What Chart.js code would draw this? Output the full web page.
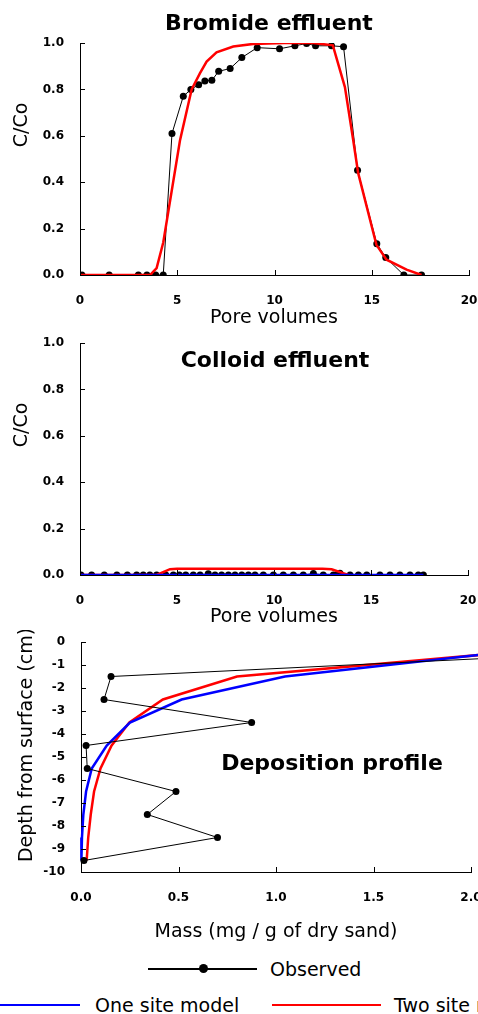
<!DOCTYPE html>
<html>
<head>
<meta charset="utf-8">
<title>Bromide and colloid effluent</title>
<script src="https://cdn.jsdelivr.net/npm/chart.js@4.4.0/dist/chart.umd.min.js"></script>
<style>
  body { margin: 0; width: 478px; height: 1014px; overflow: hidden; background: #fff; position: relative;
         font-family: "DejaVu Sans", sans-serif; color: #000; }
  .box { position: absolute; left: 0; width: 478px; }
  .lg-line { position: absolute; height: 2px; }
  .lg-dot { position: absolute; width: 9px; height: 9px; border-radius: 50%; background: #000; }
  .lg-text { position: absolute; font-size: 19px; line-height: 24px; white-space: nowrap; }
</style>
</head>
<body>
<div class="box" style="top:0;height:330px"><canvas id="bromChart"></canvas></div>
<div class="box" style="top:330px;height:300px"><canvas id="collChart"></canvas></div>
<div class="box" style="top:630px;height:315px"><canvas id="depChart"></canvas></div>

<!-- legend -->
<div class="lg-line" style="left:148px;width:109px;top:968px;background:#000"></div>
<div class="lg-dot" style="left:199px;top:964px"></div>
<div class="lg-text" style="left:270px;top:957px">Observed</div>
<div class="lg-line" style="left:0;width:80px;top:1004px;background:#0000ff"></div>
<div class="lg-text" style="left:95px;top:993px">One site model</div>
<div class="lg-line" style="left:272px;width:109px;top:1004px;background:#ff0000"></div>
<div class="lg-text" style="left:394px;top:993px">Two site model</div>

<script>
// --- Bromide effluent (pore volumes vs C/Co)
const bromPV  = [0.1, 1.5, 3.0, 3.44, 3.89, 4.28, 4.73, 5.31, 5.70, 6.10, 6.42, 6.78, 7.13, 7.72, 8.32,
                 9.11, 10.26, 11.05, 11.65, 12.11, 12.93, 13.55, 14.27, 15.26, 15.72, 16.65, 17.56];
const bromObs = [0, 0, 0, 0, 0, 0, 0.61, 0.77, 0.80, 0.82, 0.836, 0.839, 0.878, 0.89, 0.937,
                 0.98, 0.975, 0.988, 0.998, 0.988, 0.988, 0.984, 0.452, 0.135, 0.075, 0, 0];
const bromTwoPV = [0, 3.6, 3.94, 4.28, 5.14, 5.74, 6.17, 6.51, 7.02, 7.88, 8.9, 10.5, 12.0, 13.0,
                   13.62, 14.05, 14.3, 15.24, 15.76, 16.79, 17.56];
const bromTwo   = [0, 0, 0.03, 0.14, 0.58, 0.80, 0.87, 0.92, 0.96, 0.985, 0.996, 1.0, 1.0, 0.99,
                   0.81, 0.58, 0.44, 0.13, 0.066, 0.023, 0];

// --- Colloid effluent
const collPV  = [0.05, 0.6, 1.25, 1.9, 2.44, 2.92, 3.26, 3.6, 3.95, 4.42, 4.81, 5.12, 5.45, 5.84,
                 6.19, 6.61, 6.96, 7.3, 7.65, 7.99, 8.34, 8.68, 9.02, 9.45, 9.97, 10.48, 11.0, 11.51,
                 12.03, 12.54, 13.06, 13.23, 13.4, 13.92, 14.35, 14.78, 15.46, 15.98, 16.49, 17.01, 17.44, 17.7];
const collObs = [0, 0, 0, 0, 0, 0, 0, 0, 0, 0, 0, 0, 0, 0,
                 0, 0.005, 0, 0, 0, 0, 0, 0, 0, 0, 0, 0, 0, 0,
                 0.006, 0, 0, 0, 0.008, 0, 0, 0, 0, 0, 0, 0, 0, 0];
const collOne = [0, 0, 0, 0, 0, 0, 0, 0, 0, 0, 0, 0, 0, 0,
                 0, 0, 0, 0, 0, 0, 0, 0, 0, 0, 0, 0, 0, 0,
                 0, 0, 0, 0, 0, 0, 0, 0, 0, 0, 0, 0, 0, 0];
const collTwoPV = [0, 3.95, 4.64, 5.0, 12.5, 12.97, 13.83];
const collTwo   = [0, 0, 0.025, 0.027, 0.027, 0.025, 0];

// --- Deposition profile (mass vs depth)
const depth   = [-0.5, -1.5, -2.5, -3.5, -4.5, -5.5, -6.5, -7.5, -8.5, -9.5];
const depObs  = [2.6, 0.154, 0.118, 0.875, 0.026, 0.032, 0.487, 0.34, 0.70, 0.015];
const depOne  = [2.11, 1.046, 0.516, 0.251, 0.132, 0.055, 0.026, 0.012, 0.005, 0.002];
const depTwo  = [2.13, 0.80, 0.42, 0.248, 0.157, 0.10, 0.067, 0.05, 0.037, 0.029];

const pvTicks = [0, 5, 10, 15, 20];
const cTicks = [0, 0.2, 0.4, 0.6, 0.8, 1.0];
const depthTicks = [0, -1, -2, -3, -4, -5, -6, -7, -8, -9, -10];
const massTicks = [0, 0.5, 1.0, 1.5, 2.0];

const FONT = '"DejaVu Sans", sans-serif';
const tickFont = { family: FONT, size: 12, weight: 'bold' };

const pts = (xs, ys) => xs.map((x, i) => ({ x: x, y: ys[i] }));
const pair = (ys, xs) => ys.map((y, i) => ({ x: xs[i], y: y }));

// small ticks pointing into the plot, and free text placed on the canvas
const innerTicks = {
  id: 'innerTicks',
  afterDraw(chart) {
    const ctx = chart.ctx, a = chart.chartArea;
    const sx = chart.scales.x, sy = chart.scales.y;
    ctx.save();
    ctx.strokeStyle = '#000';
    ctx.lineWidth = 1;
    ctx.beginPath();
    sx.ticks.forEach(t => {
      const px = Math.round(sx.getPixelForValue(t.value)) + 0.5;
      ctx.moveTo(px, a.bottom); ctx.lineTo(px, a.bottom - 5);
    });
    sy.ticks.forEach(t => {
      const py = Math.round(sy.getPixelForValue(t.value)) + 0.5;
      ctx.moveTo(a.left, py); ctx.lineTo(a.left + 5, py);
    });
    ctx.stroke();
    ctx.restore();
  }
};

const texts = {
  id: 'texts',
  afterDraw(chart, args, opts) {
    const ctx = chart.ctx;
    (opts.items || []).forEach(it => {
      ctx.save();
      ctx.fillStyle = '#000';
      ctx.font = (it.bold ? 'bold ' : '') + it.size + 'px ' + FONT;
      ctx.textAlign = 'center';
      ctx.textBaseline = 'middle';
      ctx.translate(it.x, it.y);
      if (it.rot) ctx.rotate(-Math.PI / 2);
      ctx.fillText(it.text, 0, 0);
      ctx.restore();
    });
  }
};

function axis(min, max, ticks, fmt, fitKey, fitVal) {
  return {
    type: 'linear', min: min, max: max,
    afterBuildTicks: s => { s.ticks = ticks.map(v => ({ value: v })); },
    afterFit: s => {
      s[fitKey] = fitVal;
      s.paddingLeft = 0; s.paddingRight = 0; s.paddingTop = 0; s.paddingBottom = 0;
    },
    grid: { display: true, drawOnChartArea: false, drawTicks: false },
    border: { display: true, color: '#000', width: 1 },
    ticks: { color: '#000', font: tickFont, padding: fitKey === 'width' ? 16 : 19,
             maxRotation: 0, autoSkip: false, callback: fmt }
  };
}

function baseOptions(pad, xAxis, yAxis, items) {
  return {
    responsive: true,
    maintainAspectRatio: false,
    animation: false,
    layout: { padding: pad },
    plugins: { legend: { display: false }, tooltip: { enabled: false }, texts: { items: items } },
    scales: { x: xAxis, y: yAxis }
  };
}

const obsStyle = { borderColor: '#000', backgroundColor: '#000', borderWidth: 1,
                   pointRadius: 3.5, pointBorderWidth: 0, showLine: true };
const redStyle = { borderColor: '#ff0000', borderWidth: 2.5, pointRadius: 0, showLine: true };
const blueStyle = { borderColor: '#0000ff', borderWidth: 2.5, pointRadius: 0, showLine: true };

new Chart(document.getElementById('bromChart'), {
  type: 'scatter',
  data: { datasets: [
    Object.assign({ label: 'Two site model', data: pts(bromTwoPV, bromTwo) }, redStyle),
    Object.assign({ label: 'Observed', data: pts(bromPV, bromObs) }, obsStyle)
  ] },
  options: baseOptions({ top: 43, right: 9, left: 0, bottom: 0 },
    axis(0, 20, pvTicks, v => String(v), 'height', 55),
    axis(0, 1, cTicks, v => v.toFixed(1), 'width', 80),
    [ { text: 'Bromide effluent', x: 269, y: 24, size: 22, bold: true },
      { text: 'C/Co', x: 22, y: 125, size: 19, rot: true },
      { text: 'Pore volumes', x: 274, y: 318, size: 19 } ]),
  plugins: [innerTicks, texts]
});

new Chart(document.getElementById('collChart'), {
  type: 'scatter',
  data: { datasets: [
    Object.assign({ label: 'One site model', data: pts(collPV, collOne) }, blueStyle),
    Object.assign({ label: 'Two site model', data: pts(collTwoPV, collTwo) }, redStyle),
    Object.assign({ label: 'Observed', data: pts(collPV, collObs) }, obsStyle)
  ] },
  options: baseOptions({ top: 13, right: 10, left: 0, bottom: 0 },
    axis(0, 20, pvTicks, v => String(v), 'height', 55),
    axis(0, 1, cTicks, v => v.toFixed(1), 'width', 80),
    [ { text: 'Colloid effluent', x: 275, y: 31, size: 22, bold: true },
      { text: 'C/Co', x: 22, y: 95, size: 19, rot: true },
      { text: 'Pore volumes', x: 274, y: 287, size: 19 } ]),
  plugins: [innerTicks, texts]
});

new Chart(document.getElementById('depChart'), {
  type: 'scatter',
  data: { datasets: [
    Object.assign({ label: 'Observed', data: pair(depth, depObs), clip: false }, obsStyle),
    Object.assign({ label: 'One site model', data: pair(depth, depOne), clip: false }, blueStyle),
    Object.assign({ label: 'Two site model', data: pair(depth, depTwo), clip: false }, redStyle)
  ] },
  options: baseOptions({ top: 12, right: 7, left: 0, bottom: 0 },
    axis(0, 2, massTicks, v => v.toFixed(1), 'height', 73),
    axis(-10, 0, depthTicks, v => String(v), 'width', 81),
    [ { text: 'Deposition profile', x: 332, y: 134, size: 22, bold: true },
      { text: 'Depth from surface (cm)', x: 27, y: 115, size: 19, rot: true },
      { text: 'Mass (mg / g of dry sand)', x: 276, y: 302, size: 19 } ]),
  plugins: [innerTicks, texts]
});
</script>
</body>
</html>
